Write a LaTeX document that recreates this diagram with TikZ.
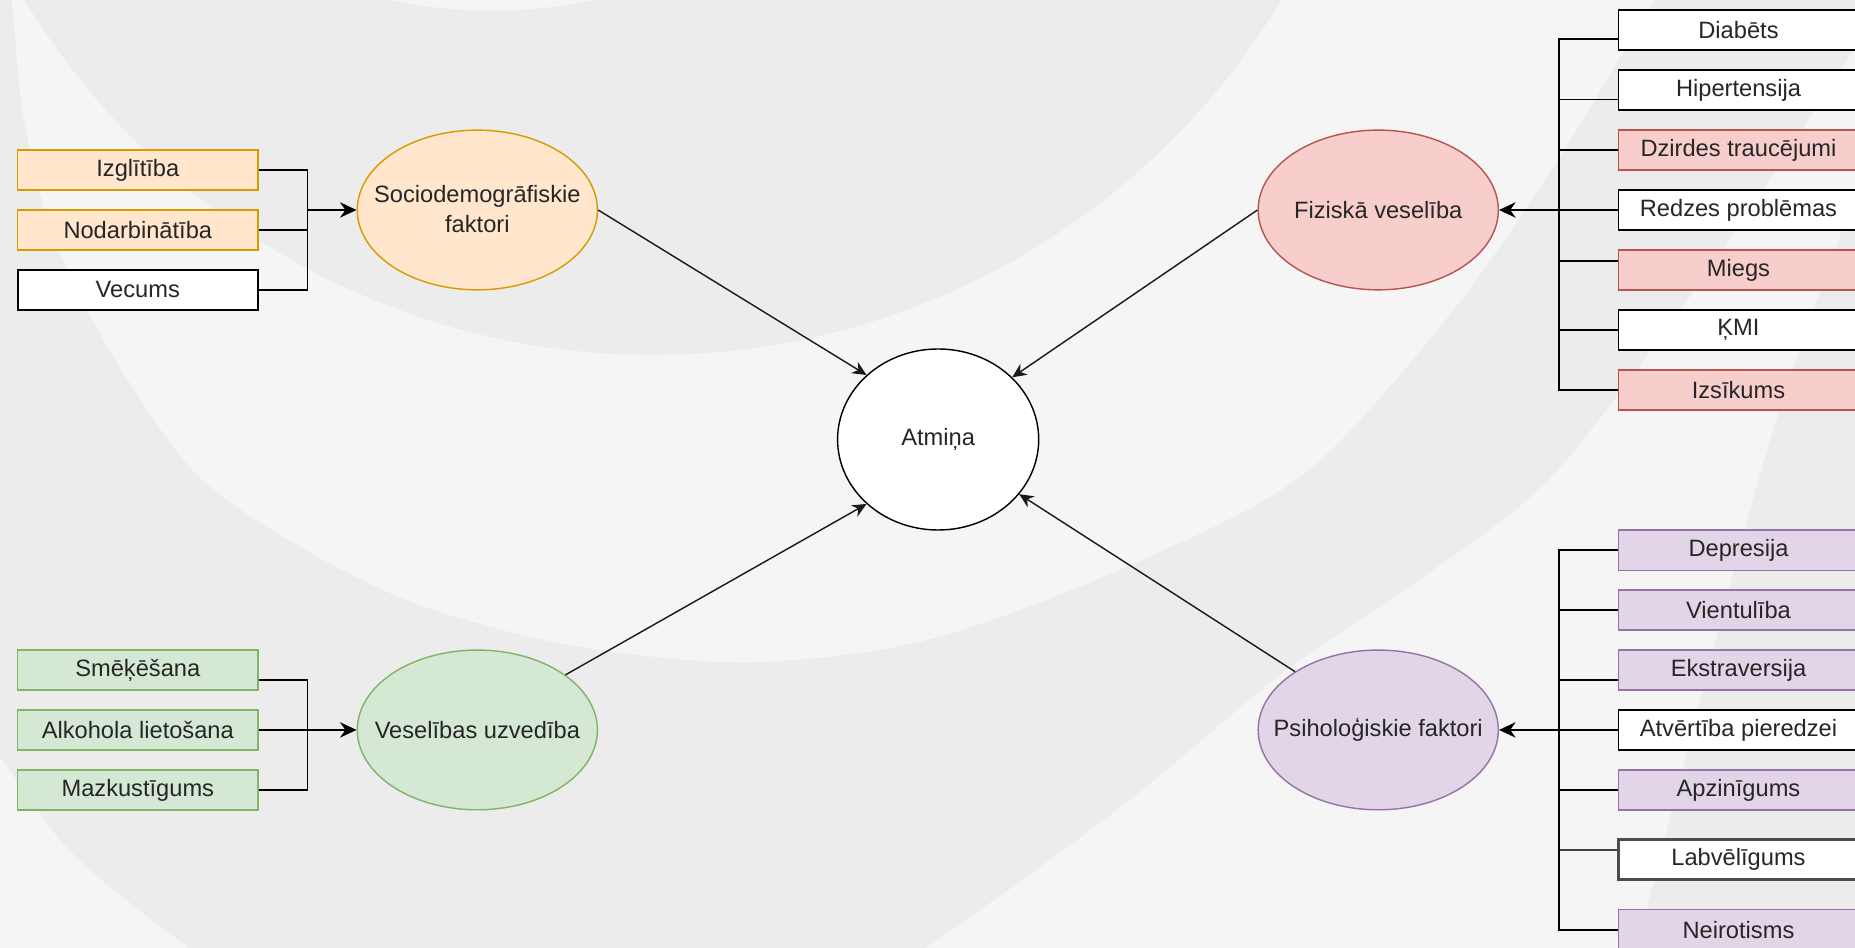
\documentclass[tikz,border=0pt]{standalone}
\usepackage{fontspec}
\setmainfont{Liberation Sans}
\usetikzlibrary{shapes.geometric,arrows.meta,calc}
\definecolor{bgdark}{HTML}{ECECEC}
\definecolor{bglight}{HTML}{F5F5F5}
\definecolor{orfill}{HTML}{FFE6CC}\definecolor{ordraw}{HTML}{D79B00}
\definecolor{rdfill}{HTML}{F8CECC}\definecolor{rddraw}{HTML}{B85450}
\definecolor{grfill}{HTML}{D5E8D4}\definecolor{grdraw}{HTML}{82B366}
\definecolor{pufill}{HTML}{E1D5E7}\definecolor{pudraw}{HTML}{9673A6}
\definecolor{txtcol}{HTML}{262626}
\begin{document}
\begin{tikzpicture}[x=0.5pt,y=-0.5pt,
  every node/.style={font=\fontsize{10pt}{12.5pt}\selectfont, text=txtcol},
  box/.style={rectangle, minimum width=101.5pt, minimum height=17pt, inner sep=0pt, line width=0.7pt, draw=black, fill=white},
  obox/.style={box, fill=orfill, draw=ordraw, line width=0.6pt},
  rbox/.style={box, fill=rdfill, draw=rddraw, line width=0.6pt},
  gbox/.style={box, fill=grfill, draw=grdraw, line width=0.6pt},
  pbox/.style={box, fill=pufill, draw=pudraw, line width=0.6pt},
  ell/.style={ellipse, minimum width=101.5pt, minimum height=67.5pt, inner sep=0pt, line width=0.6pt},
  lbl/.style={align=center, inner sep=0pt},
  conn/.style={line width=0.7pt, draw=black},
  arr/.style={conn, -{Stealth[length=7pt,width=6.5pt]}},
  darr/.style={line width=0.6pt, draw=black!90, -{Stealth[length=6pt,width=5.5pt]}},
]
\useasboundingbox (0,0) rectangle (1568,801);
\clip (0,0) rectangle (1568,801);
% background
\fill[bglight] (0,0) rectangle (1568,801);
\fill[bgdark] (-60,-60) -- (-60,600) -- plot[smooth] coordinates {(-30,612) (0,640) (60,720) (160,801) (300,890) (480,920) (650,880) (784,800) (950,680) (1084,569) (1200,490) (1314,400) (1450,220) (1568,40) (1620,-40)} -- (1620,-60) -- cycle;
\fill[bgdark] plot[smooth] coordinates {(1600,60) (1568,163) (1488,400) (1384,800) (1370,860)} -- (1650,860) -- (1650,60) -- cycle;
\fill[bglight] (-60,-60) -- plot[smooth] coordinates {(5,-40) (10,0) (20,100) (45,200) (95,300) (165,400) (250,460) (351,510) (480,545) (630,560) (784,541) (950,480) (1103,400) (1230,260) (1320,130) (1398,0) (1420,-40)} -- (1420,-60) -- cycle;
\fill[bgdark] (552,-320) circle[radius=310pt];
\fill[bglight] (416,-397) circle[radius=203pt];

% left top group
\node[obox] (izg) at (116.5,143.7) {Izglītība};
\node[obox] (nod) at (116.5,194.4) {Nodarbinātība};
\node[box] (vec) at (116.5,245.1) {Vecums};
% left bottom group
\node[gbox] (sme) at (116.5,566.4) {Smēķēšana};
\node[gbox] (alk) at (116.5,617) {Alkohola lietošana};
\node[gbox] (maz) at (116.5,667.8) {Mazkustīgums};

% ellipses
\node[ell, fill=orfill, draw=ordraw] (soc) at (403.5,177.5) {};
\node[lbl] (soct) at (403.5,176.5) {Sociodemogrāfiskie\\faktori};
\node[ell, fill=grfill, draw=grdraw] (ves) at (403.5,617) {};
\node[lbl] (vest) at (ves) {Veselības uzvedība};
\node[ell, fill=white, draw=black, minimum width=85pt, minimum height=76.5pt] (atm) at (793,371.5) {};
\node[lbl] (atmt) at (atm) {Atmiņa};
\node[ell, fill=rdfill, draw=rddraw] (fiz) at (1165,177.5) {};
\node[lbl] (fizt) at (fiz) {Fiziskā veselība};
\node[ell, fill=pufill, draw=pudraw] (psi) at (1165,617) {};
\node[lbl] (psit) at (psi) {Psiholoģiskie faktori};

% right top group
\node[box] (dia) at (1469.5,25.4) {Diabēts};
\node[box] (hip) at (1469.5,76.1) {Hipertensija};
\node[rbox] (dzi) at (1469.5,126.8) {Dzirdes traucējumi};
\node[box] (red) at (1469.5,177.5) {Redzes problēmas};
\node[rbox] (mie) at (1469.5,228.2) {Miegs};
\node[box] (kmi) at (1469.5,279) {ĶMI};
\node[rbox] (izs) at (1469.5,329.7) {Izsīkums};
% right bottom group
\node[pbox] (dep) at (1469.5,465) {Depresija};
\node[pbox] (vie) at (1469.5,515.7) {Vientulība};
\node[pbox] (eks) at (1469.5,566.4) {Ekstraversija};
\node[box] (atv) at (1469.5,617) {Atvērtība pieredzei};
\node[pbox] (apz) at (1469.5,667.8) {Apzinīgums};
\node[box, draw=black!70, line width=1pt] (lab) at (1469.5,726.5) {Labvēlīgums};
\node[pbox] (nei) at (1469.5,786) {Neirotisms};

% left connectors
\coordinate (bl1) at (260,177.5);
\draw[conn] (izg.east) -| (bl1);
\draw[conn] (vec.east) -| (bl1);
\draw[conn] (nod.east) -- (nod.east -| bl1);
\draw[arr] (bl1) -- (soc.west);
\coordinate (bl2) at (260,617);
\draw[conn] ([yshift=-4.3pt]sme.east) -| (bl2);
\draw[conn] (maz.east) -| (bl2);
\draw[arr] (alk.east) -- (ves.west);

% right top connectors
\coordinate (br1) at (1318,177.5);
\draw[conn] ([yshift=-3.9pt]dia.west) -| (br1);
\draw[conn] ([yshift=-4pt]hip.west) -| (br1);
\draw[conn] (dzi.west) -| (br1);
\draw[conn] ([yshift=3.7pt]mie.west) -| (br1);
\draw[conn] (kmi.west) -| (br1);
\draw[conn] (izs.west) -| (br1);
\draw[arr] (red.west) -- (fiz.east);

% right bottom connectors
\coordinate (br2) at (1318,617);
\draw[conn] (dep.west) -| (br2);
\draw[conn] (vie.west) -| (br2);
\draw[conn] ([yshift=-4.2pt]eks.west) -| (br2);
\draw[conn] (apz.west) -| (br2);
\draw[conn, draw=black!75, line width=1pt] ([yshift=4pt]lab.west) -- ([yshift=4pt]lab.west -| br2);
\draw[conn] (nei.west) -| (br2);
\draw[arr] (atv.west) -- (psi.east);

% diagonal arrows to the centre
\draw[darr] (soc.east) -- (atm.138.3);
\draw[darr] (fiz.west) -- (atm.40.8);
\draw[darr] (ves.32.2) -- (atm.222.8);
\draw[darr] (psi.145.8) -- (atm.326);
\end{tikzpicture}
\end{document}
